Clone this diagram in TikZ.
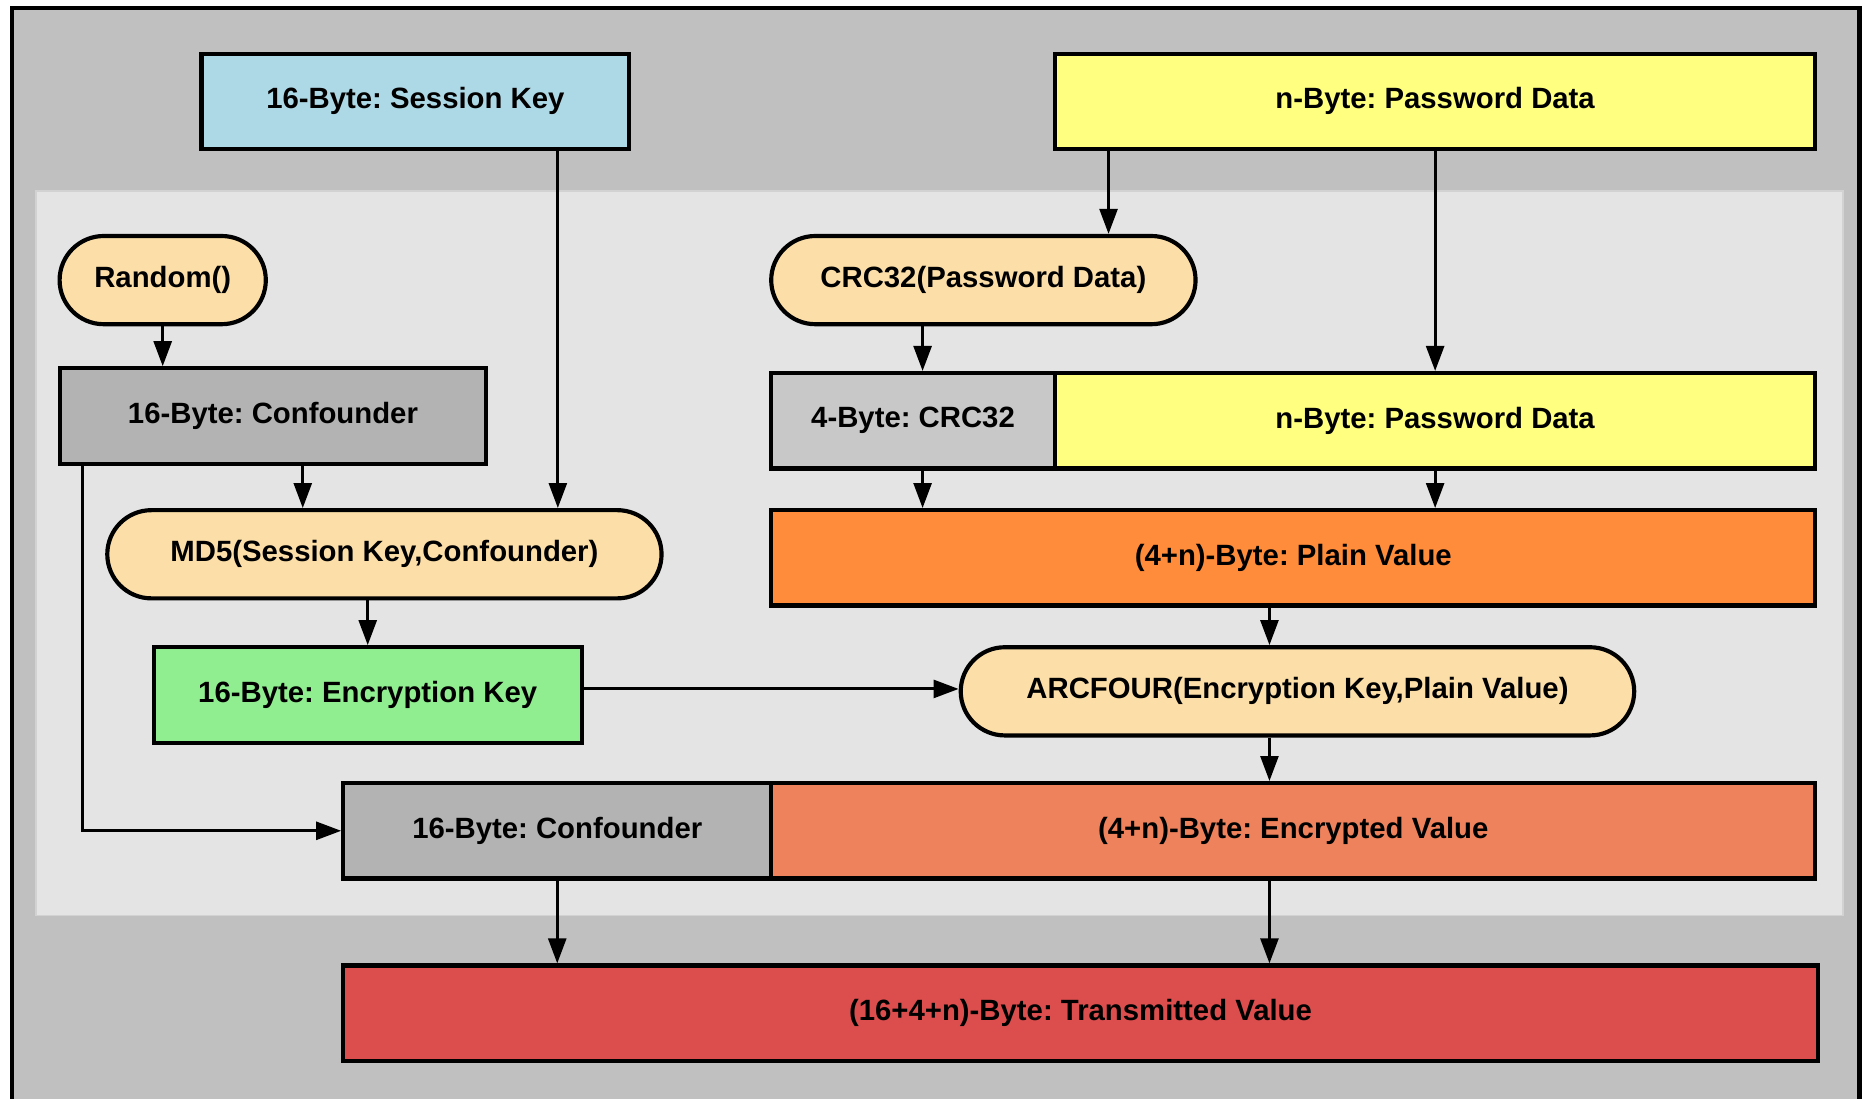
\documentclass[tikz,border=0pt]{standalone}
\usepackage{fontspec}
\setmainfont{Liberation Sans}
\usepackage{tikz}
\usetikzlibrary{arrows.meta, shapes.misc}
\frenchspacing
\definecolor{frameGray}{HTML}{C0C0C0}
\definecolor{panelGray}{HTML}{E4E4E4}
\definecolor{panelEdge}{HTML}{D2D2D2}
\definecolor{funcFill}{HTML}{FCDFA8}
\definecolor{keyBlue}{HTML}{ADD8E6}
\definecolor{pwdYellow}{HTML}{FFFF80}
\definecolor{confGray}{HTML}{B3B3B3}
\definecolor{crcGray}{HTML}{C8C8C8}
\definecolor{keyGreen}{HTML}{90EE90}
\definecolor{plainOrange}{HTML}{FF8C3A}
\definecolor{encOrange}{HTML}{EE825C}
\definecolor{transRed}{HTML}{DC4E4E}

\begin{document}
\begin{tikzpicture}[font=\fontsize{14}{16}\selectfont\bfseries,
  box/.style={draw, line width=0.07cm, minimum height=1.6cm, inner sep=0pt},
  func/.style={draw, rounded rectangle, fill=funcFill, line width=0.07cm, minimum height=1.48cm, inner sep=0pt},
  flow/.style={-{Triangle[length=0.42cm, width=0.3cm]}, line width=0.05cm}]
  % page = 31.36 x 18.44 cm, frame runs off the bottom
  \useasboundingbox (0,0) rectangle (31.36,18.44);
  \draw[fill=frameGray, line width=0.07cm] (0.2,-1) rectangle (31.2,18.3);
  \draw[fill=panelGray, draw=panelEdge, line width=0.03cm] (0.6,3.08) rectangle (30.92,15.24);

  % inputs
  \node[box, fill=keyBlue, minimum width=7.18cm] (skey) at (6.97,16.74) {16-Byte: Session Key};
  \node[box, fill=pwdYellow, minimum width=12.76cm] (pwd) at (24.08,16.74) {n-Byte: Password Data};

  % key side
  \node[func, minimum width=3.46cm] (rnd) at (2.73,13.74) {Random()};
  \node[box, fill=confGray, minimum width=7.16cm] (conf) at (4.58,11.46) {16-Byte: Confounder};
  \node[func, minimum width=9.3cm] (md5) at (6.45,9.14) {MD5(Session Key,Confounder)};
  \node[box, fill=keyGreen, minimum width=7.18cm] (enck) at (6.17,6.78) {16-Byte: Encryption Key};

  % data side
  \node[func, minimum width=7.12cm] (crcf) at (16.5,13.74) {CRC32(Password Data)};
  \node[box, fill=crcGray, minimum width=4.76cm] (crc) at (15.32,11.38) {4-Byte: CRC32};
  \node[box, fill=pwdYellow, minimum width=12.76cm] (pwd2) at (24.08,11.38) {n-Byte: Password Data};
  \node[box, fill=plainOrange, minimum width=17.52cm] (plain) at (21.7,9.08) {(4+n)-Byte: Plain Value};
  \node[func, minimum width=11.3cm] (arc) at (21.77,6.84) {ARCFOUR(Encryption Key,Plain Value)};

  % output
  \node[box, fill=confGray, minimum width=7.18cm] (conf2) at (9.35,4.5) {16-Byte: Confounder};
  \node[box, fill=encOrange, minimum width=17.52cm] (encv) at (21.7,4.5) {(4+n)-Byte: Encrypted Value};
  \node[box, fill=transRed, minimum width=24.74cm] (trans) at (18.13,1.44) {(16+4+n)-Byte: Transmitted Value};

  \draw[flow] ([xshift=2.39cm]skey.south) -- ([xshift=2.39cm]skey.south |- md5.north);
  \draw[flow] ([xshift=-5.48cm]pwd.south) -- ([xshift=-5.48cm]pwd.south |- crcf.north);
  \draw[flow] (pwd.south) -- (pwd2.north);
  \draw[flow] (rnd.south) -- (rnd.south |- conf.north);
  \draw[flow] ([xshift=0.5cm]conf.south) -- ([xshift=0.5cm]conf.south |- md5.north);
  \draw[flow] ([xshift=-3.2cm]conf.south) |- (conf2.west);
  \draw[flow] (enck.north |- md5.south) -- (enck.north);
  \draw[flow] ([yshift=0.1cm]enck.east) -- ([yshift=0.1cm]enck.east -| arc.west);
  \draw[flow] ([xshift=0.16cm]crc.north |- crcf.south) -- ([xshift=0.16cm]crc.north);
  \draw[flow] ([xshift=0.16cm]crc.south) -- ([xshift=0.16cm]crc.south |- plain.north);
  \draw[flow] (pwd2.south) -- (pwd2.south |- plain.north);
  \draw[flow] ([xshift=-0.4cm]plain.south) -- ([xshift=-0.4cm]plain.south |- arc.north);
  \draw[flow] ([xshift=-0.4cm]plain.south |- arc.south) -- ([xshift=-0.4cm]plain.south |- encv.north);
  \draw[flow] (conf2.south) -- (conf2.south |- trans.north);
  \draw[flow] ([xshift=-0.4cm]encv.south) -- ([xshift=-0.4cm]encv.south |- trans.north);
\end{tikzpicture}
\end{document}
